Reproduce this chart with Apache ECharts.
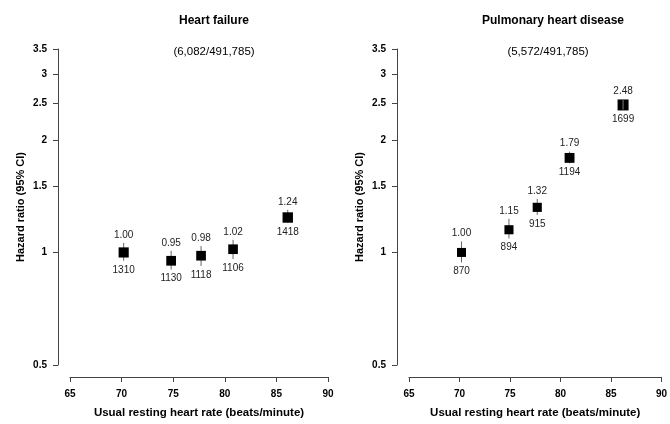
<!DOCTYPE html>
<html>
<head>
<meta charset="utf-8">
<script src="https://cdn.jsdelivr.net/npm/echarts@6/dist/echarts.min.js"></script>
<style>
  html, body { margin: 0; padding: 0; background: #fff; }
  #myChart { width: 670px; height: 424px; }
</style>
</head>
<body>
<div id="myChart"></div>
<script>
// heart failure
const rateHF = [70.2, 74.8, 77.7, 80.8, 86.1];
const hrHF = [1.00, 0.95, 0.98, 1.02, 1.24];
const loHF = [0.95, 0.90, 0.92, 0.96, 1.20];
const hiHF = [1.06, 1.01, 1.04, 1.08, 1.30];
const nHF = [1310, 1130, 1118, 1106, 1418];
// pulmonary heart disease
const rateHD = [70.2, 74.9, 77.7, 80.9, 86.2];
const hrHD = [1.00, 1.15, 1.32, 1.79, 2.48];
const loHD = [0.94, 1.09, 1.26, 1.73, 2.41];
const hiHD = [1.07, 1.23, 1.39, 1.86, 2.56];
const nHD = [870, 894, 915, 1194, 1699];

const yTicks = [0.5, 1, 1.5, 2, 2.5, 3, 3.5];
const xTicks = [65, 70, 75, 80, 85, 90];

const panelTitles = ['Heart failure', 'Pulmonary heart disease'];
const panelCounts = ['(6,082/491,785)', '(5,572/491,785)'];

const font = 'Liberation Sans, Arial, sans-serif';

function rows(rate, hr, lo, hi, n) {
  return rate.map((r, i) => [r, hr[i], lo[i], hi[i], n[i]]);
}

// box, CI line and the two labels
function renderPoint(params, api) {
  const c = api.coord([api.value(0), api.value(1)]);
  const top = api.coord([api.value(0), api.value(3)]);
  const bot = api.coord([api.value(0), api.value(2)]);
  const n = api.value(4);
  const s = 4 + 0.17 * Math.sqrt(n);
  const kids = [
    { type: 'line', shape: { x1: c[0], y1: top[1], x2: c[0], y2: bot[1] },
      style: { stroke: '#666', lineWidth: 1 } },
    { type: 'rect', shape: { x: c[0] - s / 2, y: c[1] - s / 2, width: s, height: s },
      style: { fill: '#000' } }
  ];
  // CI fully inside the box: show it in a light colour on top
  if (top[1] > c[1] - s / 2 && bot[1] < c[1] + s / 2) {
    kids.push({ type: 'line', shape: { x1: c[0], y1: top[1], x2: c[0], y2: bot[1] },
      style: { stroke: '#999', lineWidth: 0.8 } });
  }
  kids.push(
    { type: 'text', x: c[0], y: Math.min(top[1], c[1] - s / 2) - 8,
      style: { text: api.value(1).toFixed(2), fontSize: 10, fontFamily: font,
        fill: '#222', align: 'center', verticalAlign: 'middle' } },
    { type: 'text', x: c[0], y: Math.max(bot[1], c[1] + s / 2) + 9,
      style: { text: String(n), fontSize: 10, fontFamily: font,
        fill: '#222', align: 'center', verticalAlign: 'middle' } }
  );
  return { type: 'group', children: kids };
}

function xAxisOpt(idx) {
  return {
    gridIndex: idx, type: 'value', min: 65, max: 90, interval: 5, offset: 12,
    name: 'Usual resting heart rate (beats/minute)', nameLocation: 'middle', nameGap: 30,
    nameTextStyle: { fontSize: 11.5, fontWeight: 'bold', fontFamily: font, color: '#000' },
    axisLine: { lineStyle: { color: '#444', width: 1 } },
    axisTick: { length: 5, lineStyle: { color: '#444' } },
    axisLabel: { fontSize: 10, fontWeight: 'bold', fontFamily: font, color: '#000', margin: 12,
      showMinLabel: true, showMaxLabel: true },
    splitLine: { show: false }
  };
}

function yAxisOpt(idx) {
  return {
    gridIndex: idx, type: 'log', logBase: 10, min: 0.5, max: 3.5, offset: 12,
    name: 'Hazard ratio (95% CI)', nameLocation: 'middle', nameGap: 32,
    nameTextStyle: { fontSize: 11, fontWeight: 'bold', fontFamily: font, color: '#000' },
    axisLine: { show: true, lineStyle: { color: '#444', width: 1 } },
    axisTick: { show: true, length: 5, customValues: yTicks, lineStyle: { color: '#444' } },
    axisLabel: { fontSize: 10, fontWeight: 'bold', fontFamily: font, color: '#000', margin: 11,
      customValues: yTicks, formatter: v => String(v) },
    splitLine: { show: false }
  };
}

const Chart = echarts.init(document.getElementById('myChart'));
Chart.setOption({
  animation: false,
  backgroundColor: '#fff',
  title: [
    { text: panelTitles[0], left: 209, top: 10, textAlign: 'center',
      textStyle: { fontSize: 12, fontWeight: 'bold', fontFamily: font, color: '#000' } },
    { text: panelCounts[0], left: 209, top: 41, textAlign: 'center',
      textStyle: { fontSize: 11.5, fontWeight: 'normal', fontFamily: font, color: '#000' } },
    { text: panelTitles[1], left: 548, top: 10, textAlign: 'center',
      textStyle: { fontSize: 12, fontWeight: 'bold', fontFamily: font, color: '#000' } },
    { text: panelCounts[1], left: 543, top: 41, textAlign: 'center',
      textStyle: { fontSize: 11.5, fontWeight: 'normal', fontFamily: font, color: '#000' } }
  ],
  grid: [
    { left: 70, top: 49, width: 258, height: 323 },
    { left: 409, top: 49, width: 258, height: 323 }
  ],
  xAxis: [xAxisOpt(0), xAxisOpt(1)],
  yAxis: [yAxisOpt(0), yAxisOpt(1)],
  series: [
    { type: 'custom', xAxisIndex: 0, yAxisIndex: 0, renderItem: renderPoint,
      data: rows(rateHF, hrHF, loHF, hiHF, nHF) },
    { type: 'custom', xAxisIndex: 1, yAxisIndex: 1, renderItem: renderPoint,
      data: rows(rateHD, hrHD, loHD, hiHD, nHD) }
  ]
});
</script>
</body>
</html>
